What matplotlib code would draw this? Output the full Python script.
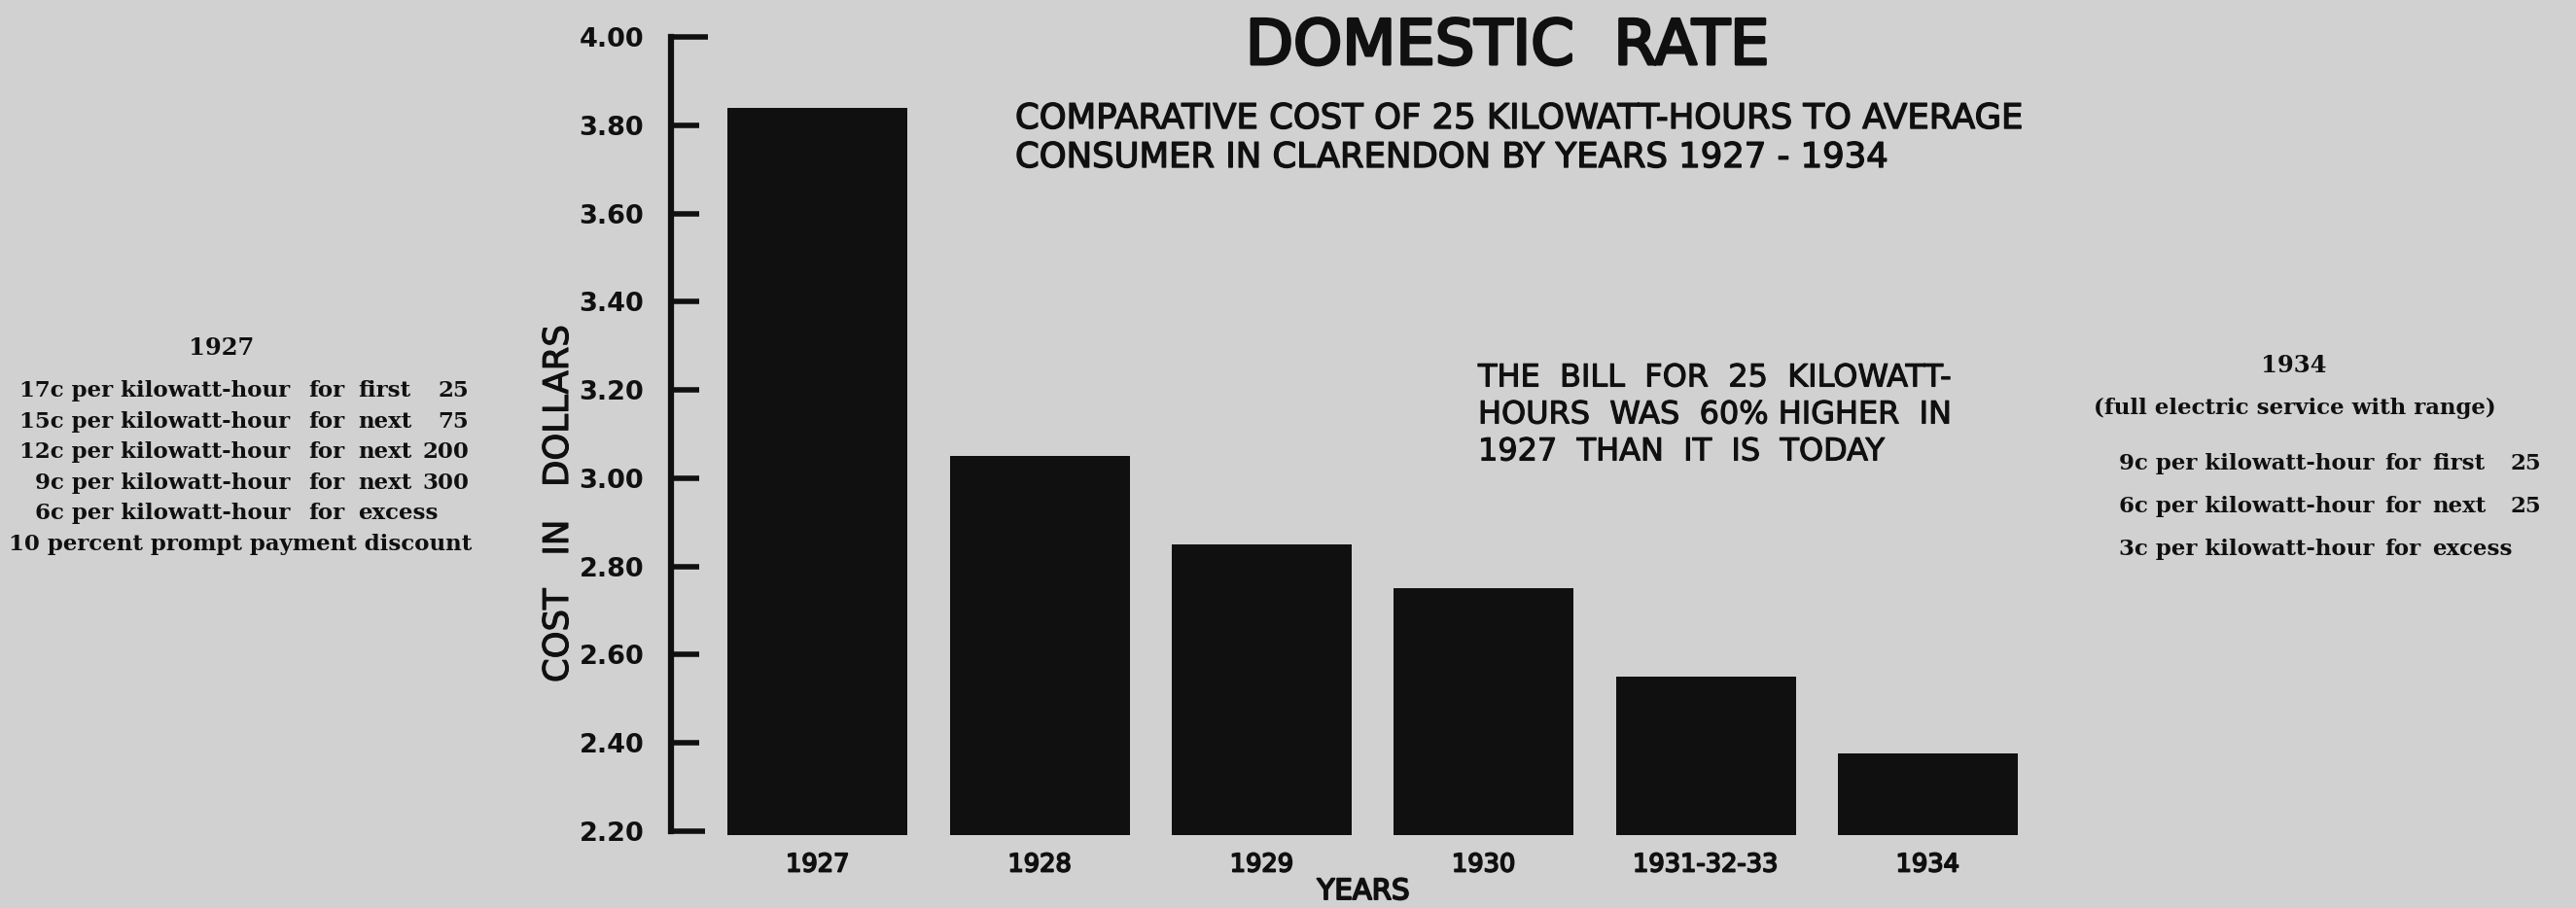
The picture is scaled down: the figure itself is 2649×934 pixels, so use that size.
import matplotlib.pyplot as plt
import matplotlib.patheffects as pe

# values
years = ["1927", "1928", "1929", "1930", "1931-32-33", "1934"]
cost = [3.84, 3.05, 2.85, 2.75, 2.55, 2.375]
y_ticks = [2.20, 2.40, 2.60, 2.80, 3.00, 3.20, 3.40, 3.60, 3.80, 4.00]
bar_base = 2.19

rates_1927 = [
    ("17c per kilowatt-hour", "for", "first", "25"),
    ("15c per kilowatt-hour", "for", "next", "75"),
    ("12c per kilowatt-hour", "for", "next", "200"),
    ("9c per kilowatt-hour", "for", "next", "300"),
    ("6c per kilowatt-hour", "for", "excess", ""),
]
discount_1927 = "10 percent prompt payment discount"
rates_1934 = [
    ("9c per kilowatt-hour", "for", "first", "25"),
    ("6c per kilowatt-hour", "for", "next", "25"),
    ("3c per kilowatt-hour", "for", "excess", ""),
]

W, H = 2649, 934
paper = "#d1d1d1"
ink = "#101010"
sans = "DejaVu Sans"
serif = "DejaVu Serif"


def heavy(lw):
    # a thin outline to thicken the normal weight a little
    return [pe.withStroke(linewidth=lw, foreground=ink)]


fig = plt.figure(figsize=(W / 100, H / 100), dpi=100, facecolor=paper)
ax = fig.add_axes([690 / W, 70 / H, 1406.6 / W, 835.1 / H])
ax.set_facecolor("none")

x = list(range(len(years)))
ax.bar(x, [c - bar_base for c in cost], bottom=bar_base, width=0.81, color=ink)

ax.set_xlim(-0.661, 5.5)
ax.set_ylim(2.18, 4.02)
ax.set_xticks(x)
ax.set_xticklabels(years, fontsize=18.5, family=sans, color=ink)
for lab in ax.get_xticklabels():
    lab.set_path_effects(heavy(1.3))
ax.set_yticks(y_ticks)
ax.set_yticklabels([f"{v:.2f}" for v in y_ticks], fontsize=19.5, family=sans,
                   fontweight="bold", color=ink)
ax.tick_params(axis="x", length=0, pad=9)
ax.tick_params(axis="y", direction="in", length=21, width=4, color=ink, pad=20)
yt = ax.yaxis.get_major_ticks()
yt[0].tick1line.set_markersize(25)
yt[-1].tick1line.set_markersize(27)

for side in ["top", "right", "bottom"]:
    ax.spines[side].set_visible(False)
ax.spines["left"].set_bounds(2.20, 4.00)
ax.spines["left"].set_linewidth(4.5)
ax.spines["left"].set_color(ink)


def put(px, py, s, **kw):
    kw.setdefault("color", ink)
    return fig.text(px / W, 1 - py / H, s, va="center", **kw)


# headings
put(1550, 48, "DOMESTIC  RATE", fontsize=46, family=sans, ha="center",
    path_effects=heavy(2.2))
put(1044, 122, "COMPARATIVE COST OF 25 KILOWATT-HOURS TO AVERAGE",
    fontsize=25.5, family=sans, ha="left", path_effects=heavy(1.0))
put(1044, 162, "CONSUMER IN CLARENDON BY YEARS 1927 - 1934",
    fontsize=25.5, family=sans, ha="left", path_effects=heavy(1.0))

note = ["THE  BILL  FOR  25  KILOWATT-", "HOURS  WAS  60% HIGHER  IN",
        "1927  THAN  IT  IS  TODAY"]
for i, line in enumerate(note):
    put(1520, 389 + i * 38, line, fontsize=23, family=sans, ha="left",
        path_effects=heavy(0.8))

put(574, 518, "COST   IN   DOLLARS", fontsize=25.5, family=sans, ha="center",
    rotation=90, path_effects=heavy(0.8))
put(1402, 917, "YEARS", fontsize=21, family=sans, ha="center",
    path_effects=heavy(1.4))

# rate schedules
serif_kw = dict(fontsize=16.5, family=serif, fontweight="bold")

put(228, 358, "1927", ha="center", fontsize=17.5, family=serif, fontweight="bold")
for i, (rate, word, span, kwh) in enumerate(rates_1927):
    py = 402 + i * 31.6
    put(298, py, rate, ha="right", **serif_kw)
    put(317, py, word, ha="left", **serif_kw)
    put(368, py, span, ha="left", **serif_kw)
    put(482, py, kwh, ha="right", **serif_kw)
put(247, 560, discount_1927, ha="center", **serif_kw)

put(2359, 376, "1934", ha="center", fontsize=17.5, family=serif, fontweight="bold")
put(2360, 420, "(full electric service with range)", ha="center", **serif_kw)
for i, (rate, word, span, kwh) in enumerate(rates_1934):
    py = 477 + i * 44
    put(2441, py, rate, ha="right", **serif_kw)
    put(2452, py, word, ha="left", **serif_kw)
    put(2501, py, span, ha="left", **serif_kw)
    put(2613, py, kwh, ha="right", **serif_kw)

fig.savefig("out.png", dpi=100, facecolor=paper)
